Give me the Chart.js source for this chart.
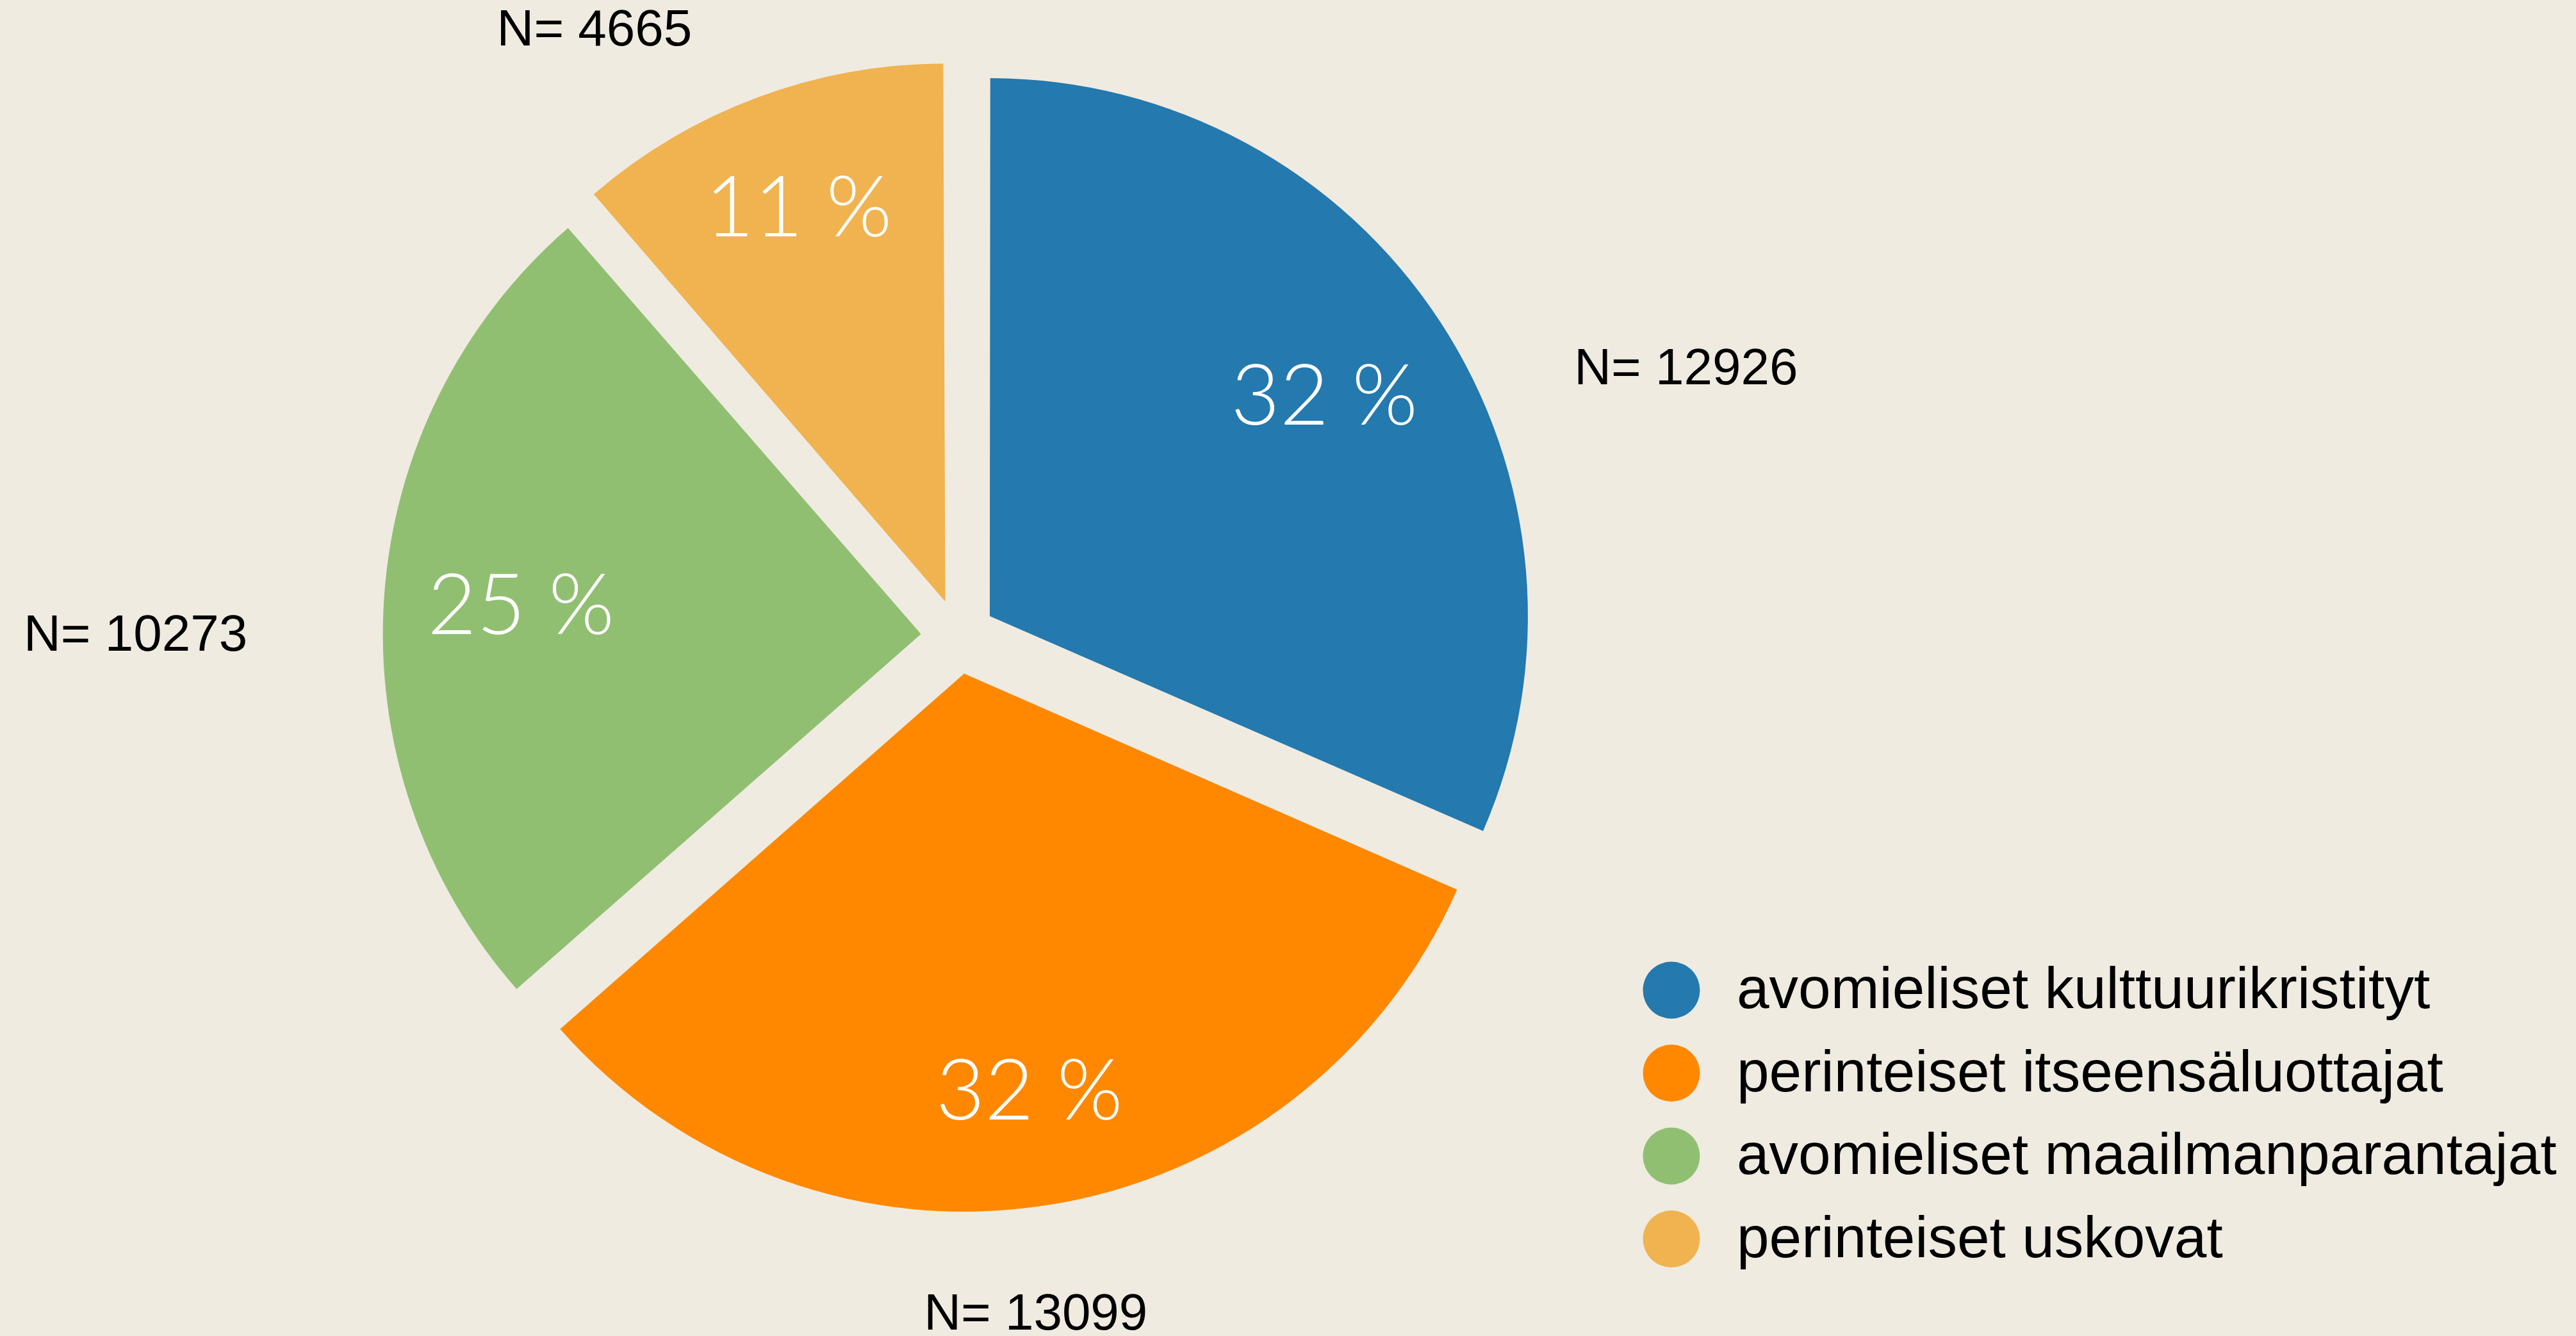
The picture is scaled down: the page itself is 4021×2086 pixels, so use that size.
<!DOCTYPE html>
<html>
<head>
<meta charset="utf-8">
<script src="https://cdn.jsdelivr.net/npm/chart.js@4.4.1/dist/chart.umd.min.js"></script>
<style>
  html, body { margin: 0; padding: 0; background: #efebe1; }
  canvas { display: block; }
</style>
</head>
<body>
<canvas id="segmentsChart" width="4021" height="2086"></canvas>
<script>
// Segments and respondent counts
const categories = [
    'avomieliset kulttuurikristityt',
    'perinteiset itseensäluottajat',
    'avomieliset maailmanparantajat',
    'perinteiset uskovat',
];
const counts = [12926, 13099, 10273, 4665];
const sliceColors = ['#2479ae', '#ff8800', '#91bf72', '#f0b350'];

// How deep into each slice the percentage sits (fraction of the radius)
const pctDepth = [0.743, 0.787, 0.745, 0.779];
// Where the "N=" labels sit: angle in degrees (0 = right) and distance in radii from pie centre
const countLabelSpots = [[-20.1, 1.440], [83.5, 1.270], [180, 1.529], [239.0, 1.313]];

// Legend placement
const legendBox = { x: 2609, y: 1546, step: 129.5, dot: 44.5, textGap: 102 };

const total = counts.reduce((acc, value) => acc + value, 0);

const piePainter = {
    id: 'piePainter',
    beforeDraw(chart) {
        const { ctx, width, height } = chart;
        ctx.save();
        ctx.fillStyle = '#efebe1';
        ctx.fillRect(0, 0, width, height);
        ctx.restore();
    },
    beforeDatasetsDraw(chart) {
        // Chart.js grows narrow exploded slices a little; keep all slices the same radius
        const meta = chart.getDatasetMeta(0);
        const baseRadius = meta.controller.outerRadius;
        meta.data.forEach((arc) => {
            const fix = 1 - Math.sin(Math.min(Math.PI, arc.circumference));
            arc.outerRadius = baseRadius - (arc.options.offset / 4) * fix;
        });
    },
    afterDatasetsDraw(chart) {
        const ctx = chart.ctx;
        const meta = chart.getDatasetMeta(0);
        const radius = meta.controller.outerRadius;
        ctx.save();
        ctx.textAlign = 'center';
        ctx.textBaseline = 'middle';
        meta.data.forEach((arc, i) => {
            const mid = (arc.startAngle + arc.endAngle) / 2;
            const shift = arc.options.offset / 4;
            const r = shift + radius * pctDepth[i];

            // percentage inside the slice
            ctx.fillStyle = '#ffffff';
            ctx.font = '300 132px Lato';
            const pct = Math.round((counts[i] / total) * 100) + ' %';
            ctx.fillText(pct, arc.x + Math.cos(mid) * r, arc.y + Math.sin(mid) * r);

            // count label outside
            const [deg, k] = countLabelSpots[i];
            const a = (deg * Math.PI) / 180;
            ctx.fillStyle = '#000000';
            ctx.font = '80px "Liberation Sans"';
            ctx.fillText('N= ' + counts[i], arc.x + Math.cos(a) * k * radius, arc.y + Math.sin(a) * k * radius);
        });

        // legend
        ctx.textAlign = 'left';
        ctx.textBaseline = 'alphabetic';
        ctx.font = '91px "Liberation Sans"';
        chart.data.labels.forEach((label, i) => {
            const cy = legendBox.y + i * legendBox.step;
            ctx.fillStyle = sliceColors[i];
            ctx.beginPath();
            ctx.arc(legendBox.x, cy, legendBox.dot, 0, Math.PI * 2);
            ctx.fill();
            ctx.fillStyle = '#000000';
            ctx.fillText(label, legendBox.x + legendBox.textGap, cy + 28);
        });
        ctx.restore();
    },
};

const ctx = document.getElementById('segmentsChart').getContext('2d');
new Chart(ctx, {
    type: 'pie',
    data: {
        labels: categories,
        datasets: [{
            data: counts,
            backgroundColor: sliceColors,
            borderWidth: 0,
            offset: 234,
        }],
    },
    options: {
        responsive: false,
        animation: false,
        devicePixelRatio: 1,
        radius: 840,
        layout: {
            padding: { left: 0, top: 0, right: 1029, bottom: 98 },
        },
        plugins: {
            legend: { display: false },
            tooltip: { enabled: false },
        },
    },
    plugins: [piePainter],
});
</script>
</body>
</html>
